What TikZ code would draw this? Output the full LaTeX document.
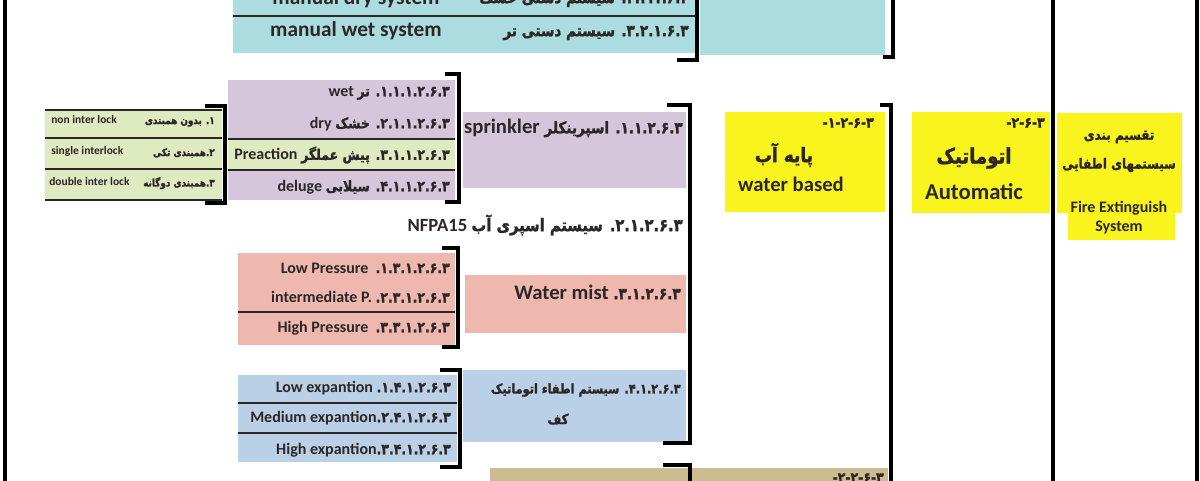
\documentclass[tikz,border=0pt]{standalone}
\usepackage{fontspec}
\usepackage{xcolor}
\usepackage{tikz}
\setmainfont{Carlito}
\newfontfamily\fa[Script=Arabic,FakeStretch=0.85,BoldFeatures={FakeBold=1.5}]{DejaVu Sans}
\TeXXeTstate=1
\newcommand{\fnum}{\fa\fontsize{11}{13}\selectfont}

\definecolor{cyanbox}{RGB}{170,220,224}
\definecolor{lilac}{RGB}{214,198,220}
\definecolor{lime}{RGB}{222,234,192}
\definecolor{salmon}{RGB}{238,184,174}
\definecolor{steel}{RGB}{186,208,230}
\definecolor{sand}{RGB}{204,188,146}
\definecolor{ylw}{RGB}{250,244,30}
\definecolor{ink}{RGB}{45,38,38}

\tikzset{
  vline/.style={line width=3pt},
  brk/.style={line width=3pt},
  rowline/.style={line width=1.1pt, ink},
  txt/.style={inner sep=0.75pt, text=ink, font=\bfseries\fontsize{12}{14}\selectfont},
  small/.style={txt, font=\bfseries\fontsize{8.6}{10}\selectfont},
  head/.style={txt, font=\bfseries\fontsize{15.5}{18}\selectfont},
}

\begin{document}
\begin{tikzpicture}[x=0.75pt,y=0.75pt,yscale=-1,xscale=1]
\useasboundingbox (0,0) rectangle (1200,480);
\clip (0,0) rectangle (1200,480);

% long frame lines
\draw[vline] (5,-10) -- (5,490);
\draw[vline] (1053,-10) -- (1053,490);
\draw[vline] (1197,-10) -- (1197,490);

% manual (cyan)
\fill[cyanbox] (233,-10) rectangle (695,53);
\fill[cyanbox] (700,-10) rectangle (885,55);
\draw[rowline] (233,16) -- (695,16);
\draw[brk] (677,60) -- (697,60) -- (697,-10);
\draw[brk] (883,57) -- (893,57) -- (893,-10);

\draw (356,-1) node (mandry) [head,font=\bfseries\fontsize{16}{18}\selectfont] {manual dry system};
\draw (356,31) node (manwet) [head,font=\bfseries\fontsize{16}{18}\selectfont] {manual wet system};
\draw (690,-1) node (mandryfa) [txt,anchor=east] {\fa\fontsize{12}{14}\selectfont\beginR ۲.۲.۱.۶.۳. سیستم دستی خشک\endR};
\draw (690,33) node (manwetfa) [txt,anchor=east] {\fa\fontsize{12}{14}\selectfont\beginR ۳.۲.۱.۶.۳. سیستم دستی تر\endR};

% interlock (green)
\fill[lime] (45,110) rectangle (222,200);
\foreach \y in {110,138,169,200}
  \draw[rowline] (45,\y) -- (222,\y);
\draw[brk] (205,106) -- (225,106) -- (225,203) -- (205,203);

\draw (50,120) node (nonil) [small,anchor=west] {non inter lock};
\draw (50,151) node (sglil) [small,anchor=west] {single interlock};
\draw (48,182) node (dblil) [small,anchor=west] {double inter lock};
\draw (216,122) node (nonilfa) [small,anchor=east] {\fa\fontsize{7.8}{9}\selectfont\beginR ۱. بدون همبندی\endR};
\draw (216,153) node (sglilfa) [small,anchor=east] {\fa\fontsize{7.8}{9}\selectfont\beginR ۲.همبندی تکی\endR};
\draw (216,183) node (dblilfa) [small,anchor=east] {\fa\fontsize{7.8}{9}\selectfont\beginR ۳.همبندی دوگانه\endR};

% sprinkler types (purple)
\fill[lilac] (228,80) rectangle (455,200);
\fill[lime] (228,139) rectangle (455,170);
\draw[rowline] (228,139) -- (455,139);
\draw[rowline] (228,170) -- (455,170);
\draw[brk] (445,74) -- (459,74) -- (459,202) -- (445,202);

\draw (451,93) node (wet) [txt,anchor=east] {wet {\fnum\beginR ۱.۱.۱.۲.۶.۳. تر\endR}};
\draw (451,124) node (dry) [txt,anchor=east] {dry {\fnum\beginR ۲.۱.۱.۲.۶.۳. خشک\endR}};
\draw (451,155) node (preac) [txt,anchor=east] {Preaction {\fnum\beginR ۳.۱.۱.۲.۶.۳. پیش عملگر\endR}};
\draw (451,187) node (delug) [txt,anchor=east] {deluge {\fnum\beginR ۴.۱.۱.۲.۶.۳. سیلابی\endR}};

\fill[lilac] (463,112) rectangle (686,188);
\draw (684,128) node (sprk) [head,anchor=east] {sprinkler {\fa\fontsize{12}{14}\selectfont\beginR ۱.۱.۲.۶.۳. اسپرینکلر\endR}};

\draw (684,225) node (spray) [head,anchor=east,font=\bfseries\fontsize{14}{16}\selectfont] {NFPA15 {\fa\fontsize{13}{15}\selectfont\beginR ۲.۱.۲.۶.۳. سیستم اسپری آب\endR}};

% water mist (pink)
\fill[salmon] (238,253) rectangle (455,345);
\draw[rowline] (238,312) -- (455,312);
\draw[brk] (442,248) -- (458,248) -- (458,347) -- (442,347);
\draw (451,268) node (lowp) [txt,anchor=east] {Low Pressure \ {\fnum ۱.۳.۱.۲.۶.۳.}};
\draw (451,297) node (midp) [txt,anchor=east] {intermediate P. {\fnum ۲.۳.۱.۲.۶.۳.}};
\draw (451,328) node (highp) [txt,anchor=east] {High Pressure \ {\fnum ۳.۳.۱.۲.۶.۳.}};

\fill[salmon] (465,275) rectangle (686,333);
\draw (682,292) node (mist) [head,anchor=east] {Water mist {\fa\fontsize{12}{14}\selectfont ۳.۱.۲.۶.۳.}};

% foam (blue)
\fill[steel] (238,375) rectangle (457,462);
\draw[rowline] (238,403) -- (457,403);
\draw[rowline] (238,433) -- (457,433);
\draw[brk] (440,370) -- (460,370) -- (460,467) -- (440,467);
\draw (452,388) node (lowx) [txt,anchor=east] {Low expantion {\fnum ۱.۴.۱.۲.۶.۳.}};
\draw (452,418) node (midx) [txt,anchor=east] {Medium expantion{\fnum ۲.۴.۱.۲.۶.۳.}};
\draw (452,450) node (highx) [txt,anchor=east] {High expantion{\fnum ۳.۴.۱.۲.۶.۳.}};

\fill[steel] (463,370) rectangle (686,442);
\draw (682,390) node (foam) [txt,anchor=east] {\fa\fontsize{10}{12}\selectfont\beginR ۴.۱.۲.۶.۳. سیستم اطفاء اتوماتیک\endR};
\draw (558,419) node (foamb) [txt] {\fa\fontsize{10.5}{12}\selectfont کف};

\draw[brk] (667,105) -- (690,105) -- (690,443) -- (663,443);

% gas (tan)
\fill[sand] (490,468) rectangle (888,490);
\draw[brk] (663,465) -- (690,465) -- (690,490);
\draw (885,478) node (gasno) [txt,anchor=east] {\fa\fontsize{11}{12}\selectfont ۲-۲-۶-۳-};

% water based
\fill[ylw] (725,112) rectangle (885,212);
\draw[brk] (880,105) -- (891,105) -- (891,490);
\draw (875,123) node (wbno) [txt,anchor=east] {\fa\fontsize{11}{12}\selectfont ۱-۲-۶-۳-};
\draw (784,155) node (wbfa) [txt] {\fa\fontsize{15}{17}\selectfont\beginR پایه آب\endR};
\draw (791,184) node (wb) [head,font=\bfseries\fontsize{15.5}{18}\selectfont] {water based};

% automatic
\fill[ylw] (912,112) rectangle (1050,213);
\draw (1046,123) node (autono) [txt,anchor=east] {\fa\fontsize{11}{12}\selectfont ۲-۶-۳-};
\draw (974,158) node (autofa) [txt] {\fa\fontsize{16}{18}\selectfont اتوماتیک};
\draw (974,192) node (auto) [txt,font=\bfseries\fontsize{17}{20}\selectfont] {Automatic};

% fire extinguish system
\fill[ylw] (1057,113) rectangle (1182,213);
\fill[ylw] (1068,213) rectangle (1175,240);
\draw (1119,137) node (clsfa) [txt] {\fa\fontsize{10.5}{12}\selectfont\beginR تقسیم بندی\endR};
\draw (1119,165) node (sysfa) [txt] {\fa\fontsize{10.5}{12}\selectfont\beginR سیستمهای اطفایی\endR};
\draw (1119,208) node (fire) [txt,font=\bfseries\fontsize{12}{14}\selectfont] {Fire Extinguish};
\draw (1119,228) node (sys) [txt,font=\bfseries\fontsize{12}{14}\selectfont] {System};

\end{tikzpicture}
\end{document}
